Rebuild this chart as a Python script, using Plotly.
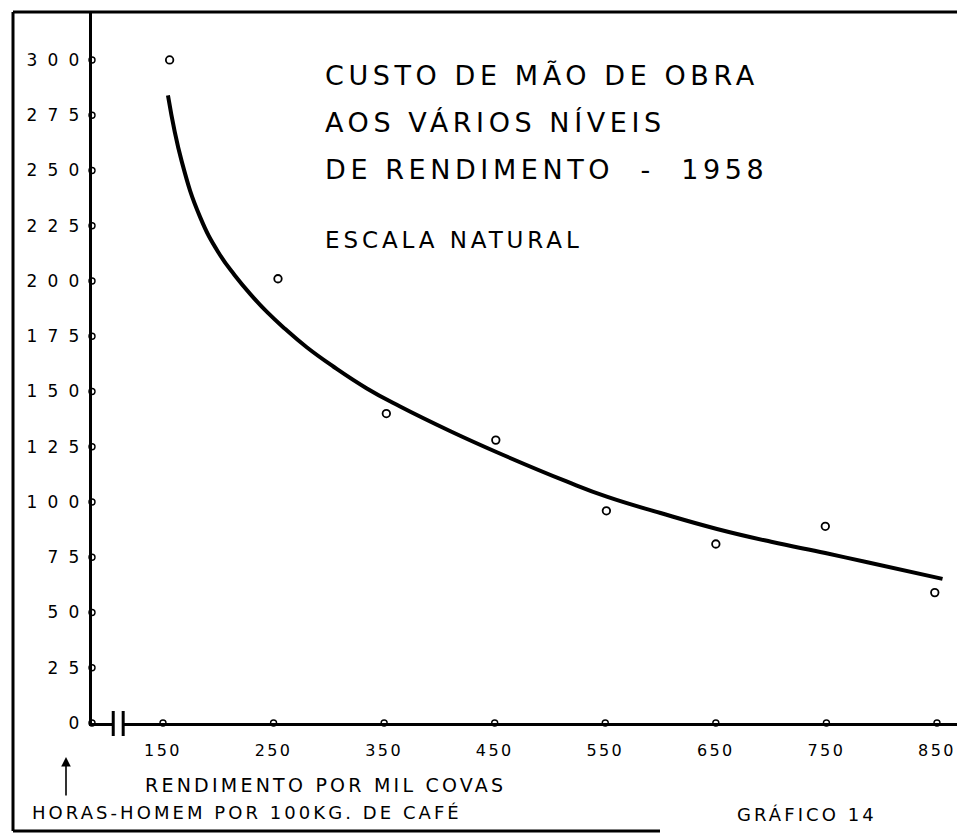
import plotly.graph_objects as go

# Data
###########################################################################
yield_x = [156, 254, 352, 451, 551, 650, 749, 848]
hours_y = [300, 201, 140, 128, 96, 81, 89, 59]

curve_x = [154.5, 167, 183.5, 200, 215, 230, 244, 260, 280, 304, 334, 364, 410, 452, 515, 552, 600, 651, 700, 749, 787, 855]
curve_y = [284, 254, 229, 213, 202.5, 193.5, 186, 178.5, 170, 161.3, 151.5, 143.3, 132, 122.5, 109.3, 102.3, 95, 87.8, 82, 76.9, 72.7, 65.2]

x_ticks = [150, 250, 350, 450, 550, 650, 750, 850]
x_ticktext = ["150", "250", "350", "450", "550", "650", "750", "850"]
y_ticks = [0, 25, 50, 75, 100, 125, 150, 175, 200, 225, 250, 275, 300]
y_ticktext = ["0", "25", "50", "75", "100", "125", "150", "175", "200", "225", "250", "275", "300"]

x_range = [85.8, 868.1]
y_range = [0, 321.7]
axis_break = [105, 114]

FONT = "DejaVu Sans"


# pixel -> paper helpers (plot area: x 92..957, y 12..723)
def px_x(p):
    return (p - 92) / 865


def px_y(p):
    return (723 - p) / 711


fig = go.Figure()

# fitted curve
fig.add_trace(go.Scatter(x=curve_x, y=curve_y, mode="lines",
                         line=dict(color="black", width=4, shape="spline", smoothing=1.3), hoverinfo="skip"))
# observed points
fig.add_trace(go.Scatter(x=yield_x, y=hours_y, mode="markers", cliponaxis=False,
                         marker=dict(symbol="circle", size=7.5, color="white", line=dict(color="black", width=1.8))))
# little circles used as tick marks on both axes
fig.add_trace(go.Scatter(x=[x_range[0]] * len(y_ticks), y=y_ticks, mode="markers", cliponaxis=False,
                         marker=dict(symbol="circle", size=6, color="white", line=dict(color="black", width=1.4))))
fig.add_trace(go.Scatter(x=x_ticks, y=[0] * len(x_ticks), mode="markers", cliponaxis=False,
                         marker=dict(symbol="circle", size=6, color="white", line=dict(color="black", width=1.4))))

fig.update_layout(
    width=957, height=834,
    margin=dict(l=92, r=0, t=12, b=111),
    paper_bgcolor="white", plot_bgcolor="white",
    showlegend=False,
    font=dict(family=FONT, color="black"),
)
fig.update_xaxes(range=x_range, showgrid=False, zeroline=False, showline=True, linecolor="black", linewidth=3,
                 tickvals=x_ticks, ticktext=x_ticktext, ticks="", ticklabelstandoff=11,
                 tickfont=dict(family=FONT, size=16, color="black"))
fig.update_yaxes(range=y_range, showgrid=False, zeroline=False, showline=True, linecolor="black", linewidth=3,
                 tickvals=y_ticks, ticktext=y_ticktext, ticks="", ticklabelstandoff=-4,
                 tickfont=dict(family=FONT, size=17, color="black"))

# frame around the drawing
frame = dict(color="black", width=3)
fig.add_shape(type="line", xref="paper", yref="paper", x0=px_x(13), x1=px_x(957), y0=1, y1=1, line=frame)
fig.add_shape(type="line", xref="paper", yref="paper", x0=px_x(13), x1=px_x(13), y0=1, y1=px_y(831), line=frame)
fig.add_shape(type="line", xref="paper", yref="paper", x0=px_x(13), x1=px_x(660), y0=px_y(831), y1=px_y(831),
              line=frame)

# axis break on the x axis
fig.add_shape(type="rect", xref="x", yref="paper", x0=axis_break[0], x1=axis_break[1], y0=px_y(728), y1=px_y(719),
              fillcolor="white", line=dict(width=0), layer="above")
for bx in axis_break:
    fig.add_shape(type="line", xref="x", yref="paper", x0=bx, x1=bx, y0=px_y(711), y1=px_y(736),
                  line=dict(color="black", width=3), layer="above")

# texts
texts = [
    ("CUSTO DE MÃO DE OBRA", 323, 76, 27),
    ("AOS VÁRIOS NÍVEIS", 323, 122, 27),
    ("DE RENDIMENTO\u00a0\u00a0-\u00a0\u00a01958", 323, 169, 27),
    ("ESCALA NATURAL", 323, 240, 23),
    ("RENDIMENTO POR MIL COVAS", 143, 785, 19),
    ("HORAS-HOMEM POR 100KG. DE CAFÉ", 30, 812, 18),
    ("GRÁFICO 14", 735, 814, 18),
]
for txt, left, mid, size in texts:
    fig.add_annotation(text=txt, xref="paper", yref="paper", x=px_x(left), y=px_y(mid), xanchor="left",
                       yanchor="middle", align="left", showarrow=False,
                       font=dict(family=FONT, size=size, color="black"))

# arrow pointing up at the vertical axis
fig.add_annotation(text="", xref="paper", yref="paper", x=px_x(66), y=px_y(757), ax=0, ay=40, showarrow=True,
                   arrowhead=2, arrowsize=1.2, arrowwidth=1.6, arrowcolor="black")

# spaced-out lettering like the hand stencil
post = """
document.body.style.margin = '0';
var gd = document.getElementById('{plot_id}');
function spaceLetters() {
  gd.querySelectorAll('.annotation-text').forEach(function (t) { t.style.letterSpacing = '0.17em'; });
  gd.querySelectorAll('.xtick text').forEach(function (t) { t.style.letterSpacing = '0.15em'; });
  gd.querySelectorAll('.ytick text').forEach(function (t) { t.style.letterSpacing = '0.6em'; });
}
spaceLetters();
gd.on('plotly_afterplot', spaceLetters);
"""

fig.write_html("out.html", post_script=post, config={"displayModeBar": False})
